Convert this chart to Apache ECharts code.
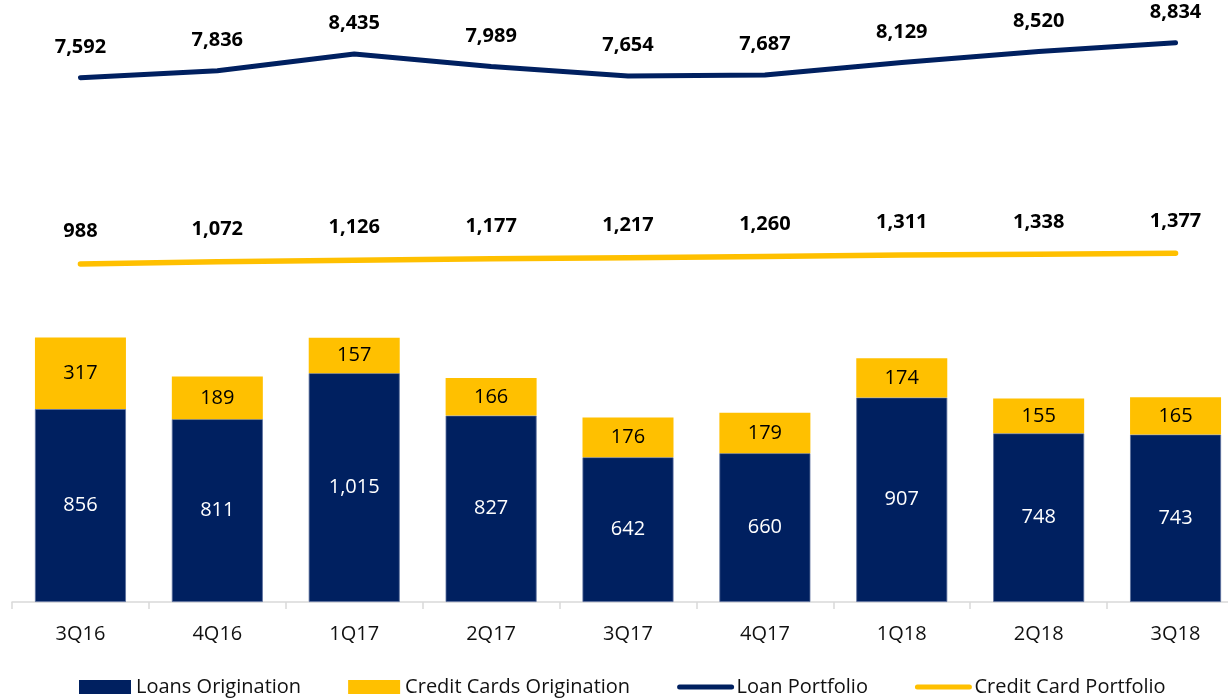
<!DOCTYPE html>
<html>
<head>
<meta charset="utf-8">
<style>
  html, body { margin: 0; padding: 0; background: #fff; overflow: hidden; }
  #chart { width: 1244px; height: 698px; }
</style>
<script src="https://cdn.jsdelivr.net/npm/echarts@6/dist/echarts.min.js"></script>
</head>
<body>
<div id="chart"></div>
<script>
// quarters on the x axis
const quarters = ['3Q16', '4Q16', '1Q17', '2Q17', '3Q17', '4Q17', '1Q18', '2Q18', '3Q18']

// origination (stacked bars)
const loansOrigination = [856, 811, 1015, 827, 642, 660, 907, 748, 743]
const cardsOrigination = [317, 189, 157, 166, 176, 179, 174, 155, 165]

// portfolios (lines)
const loanPortfolio = [7592, 7836, 8435, 7989, 7654, 7687, 8129, 8520, 8834]
const cardPortfolio = [988, 1072, 1126, 1177, 1217, 1260, 1311, 1338, 1377]

const NAVY = '#002060'
const GOLD = '#FFC000'
const FONT = "'Open Sans', sans-serif"

const fmt = (p) => p.value.toLocaleString('en-US')

const hiddenAxis = (min, max) => ({
  type: 'value',
  min,
  max,
  show: false,
  splitLine: { show: false },
})

// the original is cropped on the right, so the canvas is a bit wider than the window
const chart = echarts.init(document.getElementById('chart'), null, { renderer: 'canvas' })

const lineLabel = (distance) => ({
  show: true,
  position: 'top',
  distance,
  color: '#000',
  fontWeight: 'bold',
  fontSize: 20,
  fontFamily: FONT,
  formatter: fmt,
})

chart.setOption({
  animation: false,
  backgroundColor: '#fff',
  textStyle: { fontFamily: FONT },
  grid: { left: 12, right: 0, top: 0, bottom: 96 },
  legend: {
    bottom: -4,
    left: 74,
    itemWidth: 52,
    itemHeight: 14,
    itemGap: 47,
    textStyle: { color: '#111', fontSize: 20, fontFamily: FONT },
    data: [
      { name: 'Loans Origination', icon: 'rect', itemStyle: { borderWidth: 0 } },
      { name: 'Credit Cards Origination', icon: 'rect', itemStyle: { borderWidth: 0 } },
      { name: 'Loan Portfolio', lineStyle: { width: 5, cap: 'round' } },
      { name: 'Credit Card Portfolio', lineStyle: { width: 5, cap: 'round' } },
    ],
  },
  xAxis: {
    type: 'category',
    data: quarters,
    axisLine: { lineStyle: { color: '#d9d9d9', width: 1.5 } },
    axisTick: { show: true, length: 7, lineStyle: { color: '#d9d9d9', width: 1.5 } },
    axisLabel: { color: '#111', fontSize: 20, fontFamily: FONT, margin: 22 },
  },
  yAxis: [
    hiddenAxis(0, 2670),
    hiddenAxis(-11013, 10350),
    hiddenAxis(-11303, 10588),
  ],
  series: [
    {
      name: 'Loans Origination',
      type: 'bar',
      stack: 'orig',
      yAxisIndex: 0,
      barWidth: 91,
      data: loansOrigination,
      itemStyle: { color: NAVY, borderColor: '#5b6f9c', borderWidth: 0.8 },
      label: { show: true, position: 'inside', color: '#fff', fontSize: 20, fontFamily: FONT, formatter: fmt },
    },
    {
      name: 'Credit Cards Origination',
      type: 'bar',
      stack: 'orig',
      yAxisIndex: 0,
      barWidth: 91,
      data: cardsOrigination,
      itemStyle: { color: GOLD },
      label: { show: true, position: 'inside', color: '#000', fontSize: 20, fontFamily: FONT, formatter: fmt },
    },
    {
      name: 'Loan Portfolio',
      type: 'line',
      yAxisIndex: 1,
      data: loanPortfolio,
      symbol: 'circle',
      symbolSize: 1,
      showSymbol: true,
      lineStyle: { color: NAVY, width: 5, cap: 'round', join: 'round' },
      itemStyle: { color: 'transparent', borderWidth: 0 },
      label: lineLabel(20),
    },
    {
      name: 'Credit Card Portfolio',
      type: 'line',
      yAxisIndex: 2,
      data: cardPortfolio,
      symbol: 'circle',
      symbolSize: 1,
      showSymbol: true,
      lineStyle: { color: GOLD, width: 5.5, cap: 'round', join: 'round' },
      itemStyle: { color: 'transparent', borderWidth: 0 },
      label: lineLabel(22),
    },
  ],
})
</script>
</body>
</html>
